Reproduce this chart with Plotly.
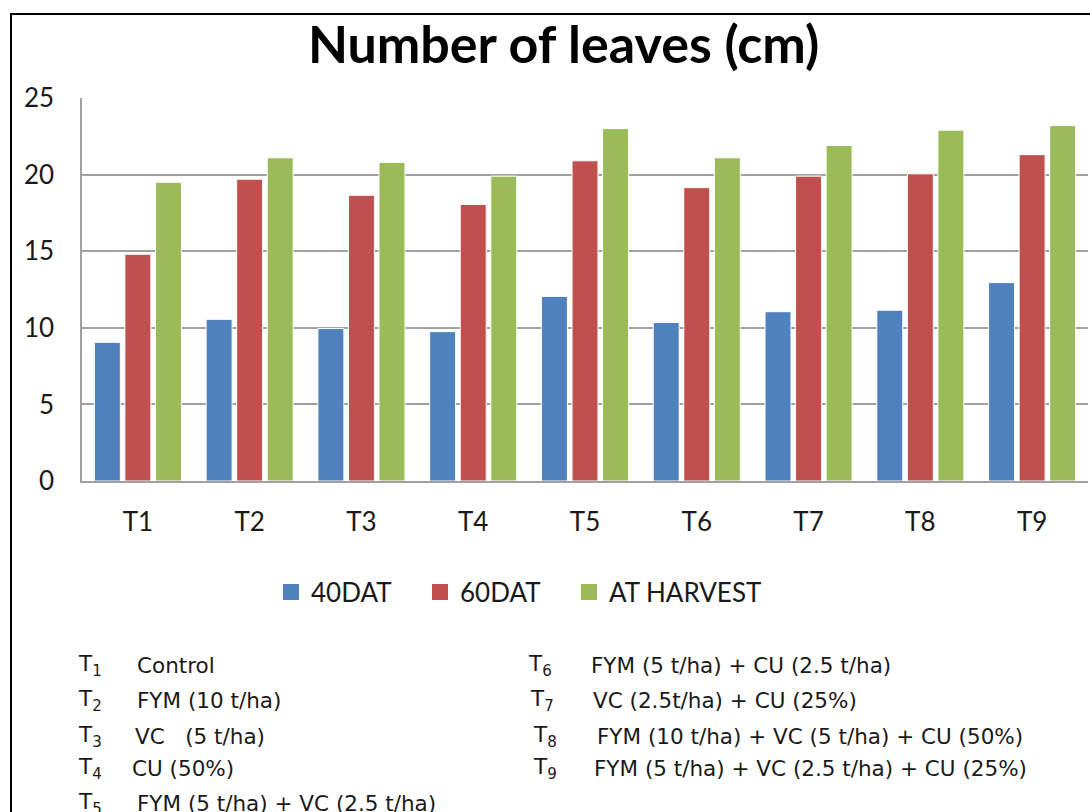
import plotly.graph_objects as go

categories = ["T1", "T2", "T3", "T4", "T5", "T6", "T7", "T8", "T9"]
dat40 = [9.05, 10.55, 9.95, 9.75, 12.05, 10.35, 11.05, 11.15, 12.95]
dat60 = [14.8, 19.7, 18.65, 18.05, 20.9, 19.15, 19.9, 20.05, 21.3]
harvest = [19.5, 21.1, 20.8, 19.9, 23.0, 21.1, 21.9, 22.9, 23.2]
series_names = ["40DAT", "60DAT", "AT HARVEST"]
colors = ["#4F81BD", "#C0504D", "#9BBB59"]
y_ticks = [0, 5, 10, 15, 20, 25]

notes_left = [("1", "Control"), ("2", "FYM (10 t/ha)"), ("3", "VC   (5 t/ha)"),
              ("4", "CU (50%)"), ("5", "FYM (5 t/ha) + VC (2.5 t/ha)")]
notes_right = [("6", "FYM (5 t/ha) + CU (2.5 t/ha)"), ("7", "VC (2.5t/ha) + CU (25%)"),
               ("8", "FYM (10 t/ha) + VC (5 t/ha) + CU (50%)"),
               ("9", "FYM (5 t/ha) + VC (2.5 t/ha) + CU (25%)")]

W, H = 1090, 812
PL, PR, PT, PB = 82, 1088, 98, 481


def px(x):
    return (x - PL) / (PR - PL)


def py(y):
    return (PB - y) / (PB - PT)


fig = go.Figure()
for name, vals, col in zip(series_names, [dat40, dat60, harvest], colors):
    fig.add_trace(go.Bar(x=categories, y=vals, name=name, showlegend=False,
                         marker=dict(color=col, line=dict(color="white", width=1))))

legend_ids = ["legend", "legend2", "legend3"]
legend_x = [271, 420, 569]
for name, col, lid in zip(series_names, colors, legend_ids):
    fig.add_trace(go.Scatter(x=[None], y=[None], mode="markers", name=name, legend=lid,
                             marker=dict(symbol="square", size=16, color=col)))

legend_style = dict(orientation="h", xanchor="left", y=py(592), yanchor="middle",
                    font=dict(family="Lato", size=26, color="#1a1a1a"),
                    itemwidth=30, bgcolor="rgba(0,0,0,0)")

fig.update_layout(
    width=W, height=H,
    margin=dict(l=PL, r=W - PR, t=PT, b=H - PB),
    paper_bgcolor="white", plot_bgcolor="white",
    barmode="group", bargap=0.18, bargroupgap=0.15,
    title=dict(text="<b>Number of leaves (cm)</b>", x=0.517, xanchor="center",
               y=1 - 45 / H, yanchor="middle", xref="container", yref="container",
               font=dict(family="Lato", size=52, color="black")),
    font=dict(family="Lato", color="#1a1a1a"),
    legend=dict(x=px(legend_x[0]), **legend_style),
    legend2=dict(x=px(legend_x[1]), **legend_style),
    legend3=dict(x=px(legend_x[2]), **legend_style),
    showlegend=True,
)
fig.update_yaxes(range=[0, 25], tickvals=y_ticks, showgrid=True, gridcolor="#A0A0A0",
                 gridwidth=1.5, showline=True, linecolor="#A0A0A0", linewidth=1.5,
                 zeroline=False, ticks="", ticklabelstandoff=21,
                 tickfont=dict(family="Lato", size=26, color="#1a1a1a"))
fig.update_xaxes(showline=True, linecolor="#A0A0A0", linewidth=1.5, ticks="",
                 ticklabelstandoff=17,
                 tickfont=dict(family="Lato", size=26, color="#1a1a1a"))

# outer frame (left and top edges visible)
fig.add_shape(type="rect", xref="paper", yref="paper",
              x0=px(11), x1=px(1120), y0=py(840), y1=py(14),
              line=dict(color="black", width=2), layer="above")

note_font = dict(family="DejaVu Sans", size=21.5, color="#1a1a1a")
left_y = [665, 700, 736, 768, 803]
left_tx = [76, 76, 76, 76, 76]
left_dx = [135, 135, 133, 130, 135]
for (num, desc), yy, tx, dx in zip(notes_left, left_y, left_tx, left_dx):
    fig.add_annotation(xref="paper", yref="paper", x=px(tx), y=py(yy), xanchor="left",
                       yanchor="middle", showarrow=False, text="T<sub>%s</sub>" % num,
                       font=note_font)
    fig.add_annotation(xref="paper", yref="paper", x=px(dx), y=py(yy), xanchor="left",
                       yanchor="middle", showarrow=False, text=desc, font=note_font)

right_y = [665, 700, 736, 768]
right_tx = [526, 528, 531, 531]
right_dx = [589, 591, 595, 592]
for (num, desc), yy, tx, dx in zip(notes_right, right_y, right_tx, right_dx):
    fig.add_annotation(xref="paper", yref="paper", x=px(tx), y=py(yy), xanchor="left",
                       yanchor="middle", showarrow=False, text="T<sub>%s</sub>" % num,
                       font=note_font)
    fig.add_annotation(xref="paper", yref="paper", x=px(dx), y=py(yy), xanchor="left",
                       yanchor="middle", showarrow=False, text=desc, font=note_font)

fig.write_html("out.html", config={"displayModeBar": False},
               post_script="document.body.style.margin='0';")
